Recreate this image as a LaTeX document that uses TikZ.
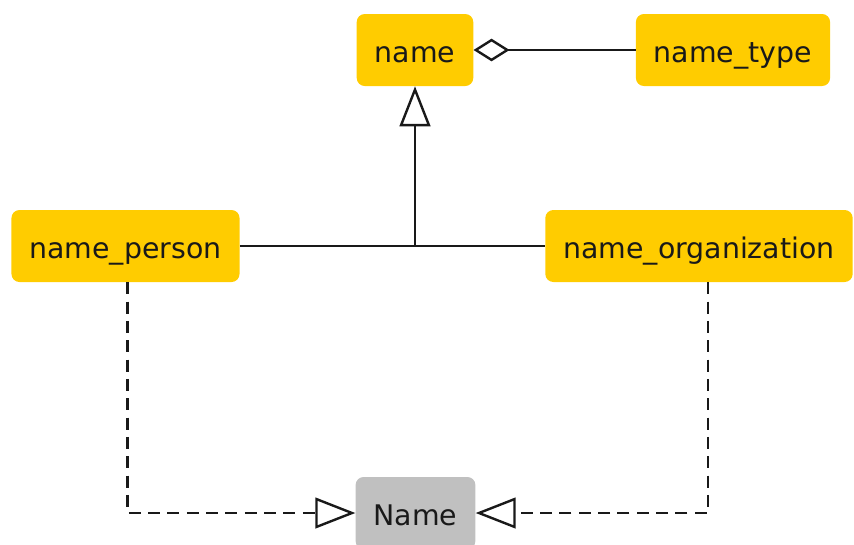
\documentclass[tikz,border=0pt]{standalone}
\usepackage{fontspec}
\setmainfont{DejaVu Sans}
\usetikzlibrary{arrows.meta}
\definecolor{classyellow}{RGB}{255,204,0}
\definecolor{ifacegray}{RGB}{192,192,192}

\begin{document}
\begin{tikzpicture}[
  x=0.75pt, y=-0.75pt,
  box/.style={rounded corners=6pt, fill=classyellow, minimum height=54pt,
              text height=21pt, text depth=3pt,
              inner xsep=13.5pt, font=\fontsize{21.3}{25}\selectfont, text=black!90},
  iface/.style={box, fill=ifacegray},
  rel/.style={line width=1.8pt, black!90},
  inherit/.style={rel, -{Triangle[open, length=30pt, width=23pt]}},
  aggr/.style={rel, {Diamond[open, length=27pt, width=17pt]}-},
  realize/.style={rel, dash pattern=on 9pt off 5.5pt, -{Triangle[open, length=30pt, width=23pt]}}
]
  \useasboundingbox (0,0) rectangle (854,544);

  \node[box] (name) at (415,50) {name};
  \node[box] (nametype) at (733,50) {name\_type};
  \node[box] (person) at (125.5,246) {name\_person};
  \node[box] (org) at (699,246) {name\_organization};
  \node[iface] (Name) at (415.5,513) {Name};

  % generalisation joint
  \coordinate (joint) at (415,246);
  \draw[rel] (person) -- (org);
  \draw[inherit] (joint) -- (name);

  \draw[aggr] (name) -- (nametype);

  % realisation of the interface
  \draw[realize] ([xshift=1.5pt]person.south) |- (Name.west);
  \draw[realize] ([xshift=6.75pt]org.south) |- (Name.east);
\end{tikzpicture}
\end{document}
